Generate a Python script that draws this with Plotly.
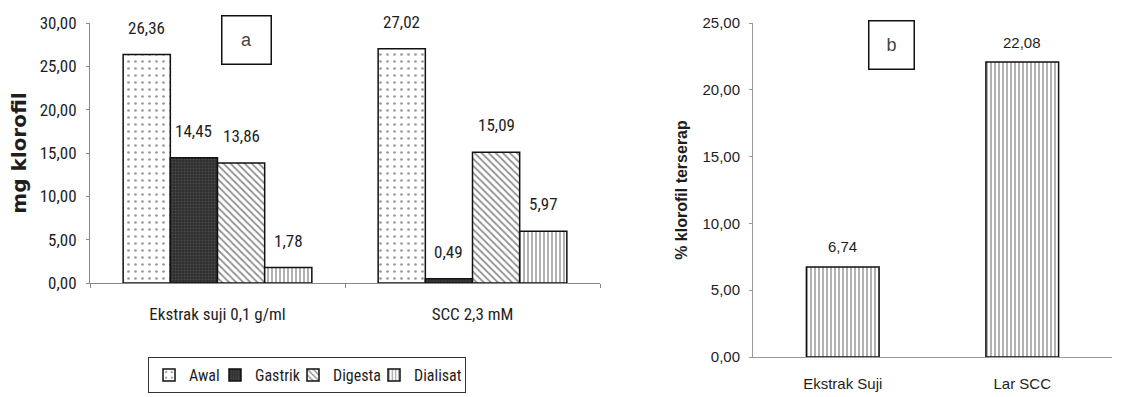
import plotly.graph_objects as go

# Panel a: chlorophyll (mg) at each digestion stage
groups = ["Ekstrak suji 0,1 g/ml", "SCC 2,3 mM"]
stages = ["Awal", "Gastrik", "Digesta", "Dialisat"]
awal = [26.36, 27.02]
gastrik = [14.45, 0.49]
digesta = [13.86, 15.09]
dialisat = [1.78, 5.97]
panel_a_ticks = [0, 5, 10, 15, 20, 25, 30]

# Panel b: percentage of chlorophyll absorbed
samples = ["Ekstrak Suji", "Lar SCC"]
absorbed = [6.74, 22.08]
panel_b_ticks = [0, 5, 10, 15, 20, 25]

NARROW = "Roboto Condensed, Liberation Sans, sans-serif"
SANS = "Liberation Sans, Arial, sans-serif"
WIDE_BOLD = "DejaVu Sans, Liberation Sans, sans-serif"
INK = "#1e1e1e"


def fmt(v):
    return f"{v:.2f}".replace(".", ",")


styles = {
    "Awal": dict(color="white", pattern=dict(shape=".", fgcolor="#333", bgcolor="white", size=7, solidity=0.12)),
    "Gastrik": dict(color="#3b3b3b", pattern=dict(shape=".", fgcolor="#6a6a6a", bgcolor="#2e2e2e", size=3, solidity=0.3)),
    "Digesta": dict(color="white", pattern=dict(shape="\\", fgcolor="#222", bgcolor="white", size=5, solidity=0.35)),
    "Dialisat": dict(color="white", pattern=dict(shape="|", fgcolor="#222", bgcolor="white", size=4, solidity=0.35)),
}
# width reserved for each legend entry's text (entries sit close together)
legend_text_width = {"Awal": 21, "Gastrik": 33, "Digesta": 36, "Dialisat": 46}
series = {"Awal": awal, "Gastrik": gastrik, "Digesta": digesta, "Dialisat": dialisat}

fig = go.Figure()

for name in stages:
    st = styles[name]
    fig.add_trace(go.Bar(
        x=groups, y=series[name], name=name,
        marker=dict(color=st["color"], pattern=st["pattern"],
                    line=dict(color="#111", width=1.5)),
        legendwidth=legend_text_width[name],
        xaxis="x", yaxis="y",
    ))

fig.add_trace(go.Bar(
    x=samples, y=absorbed, showlegend=False,
    marker=dict(color="white",
                pattern=dict(shape="|", fgcolor="#222", bgcolor="white", size=4, solidity=0.35),
                line=dict(color="#111", width=1.5)),
    xaxis="x2", yaxis="y2", width=0.405,
))

annotations = []

# value labels above the grouped bars of panel a
bargap = 0.26
bw = (1 - bargap) / len(stages)
for gi in range(len(groups)):
    for si, name in enumerate(stages):
        v = series[name][gi]
        xpos = gi - (1 - bargap) / 2 + bw * (si + 0.5)
        annotations.append(dict(
            x=xpos, y=v, xref="x", yref="y", text=fmt(v), showarrow=False,
            yshift=27, font=dict(family=NARROW, size=17, color=INK),
        ))

# value labels above the bars of panel b
for si, v in enumerate(absorbed):
    annotations.append(dict(
        x=si, y=v, xref="x2", yref="y2", text=fmt(v), showarrow=False,
        yshift=20, font=dict(family=SANS, size=15, color=INK),
    ))

# panel letters in boxes
annotations.append(dict(
    x=246 / 1127, y=1 - 40 / 397, xref="paper", yref="paper", text="a",
    xanchor="center", yanchor="middle",
    showarrow=False, font=dict(family=SANS, size=18, color="#444"),
    bordercolor="#111", borderwidth=1.5, width=46, height=45,
))
annotations.append(dict(
    x=891 / 1127, y=1 - 45 / 397, xref="paper", yref="paper", text="b",
    xanchor="center", yanchor="middle",
    showarrow=False, font=dict(family=SANS, size=18, color="#444"),
    bordercolor="#111", borderwidth=1.5, width=42, height=45,
))

fig.update_layout(
    width=1127, height=397,
    margin=dict(l=0, r=0, t=0, b=0, autoexpand=False),
    paper_bgcolor="white", plot_bgcolor="white",
    separators=",.",
    barmode="group", bargap=bargap, bargroupgap=0,
    showlegend=True,
    legend=dict(
        orientation="h", x=148 / 1127, y=1 - 357 / 397,
        xanchor="left", yanchor="top",
        bordercolor="#333", borderwidth=1,
        font=dict(family=NARROW, size=16, color=INK),
        itemwidth=30, traceorder="normal",
    ),
    annotations=annotations,
    xaxis=dict(
        domain=[90 / 1127, 600 / 1127], anchor="y", automargin=False,
        showline=True, linecolor="#888", linewidth=1,
        ticks="outside", tickson="boundaries", ticklen=4, tickcolor="#888",
        tickfont=dict(family=NARROW, size=17, color=INK),
        ticklabelstandoff=16,
    ),
    yaxis=dict(
        domain=[1 - 283 / 397, 1 - 23 / 397], anchor="x", automargin=False,
        range=[0, 30], tickvals=panel_a_ticks, tickformat=".2f",
        showgrid=False, zeroline=False,
        showline=True, linecolor="#888", linewidth=1,
        ticks="outside", ticklen=3, tickcolor="#888",
        tickfont=dict(family=NARROW, size=17, color=INK),
        ticklabelstandoff=6,
        title=dict(text="<b>mg klorofil</b>", font=dict(family=WIDE_BOLD, size=20, color=INK), standoff=7),
    ),
    xaxis2=dict(
        domain=[753 / 1127, 1112 / 1127], anchor="y2", automargin=False,
        showline=True, linecolor="#999", linewidth=1,
        ticks="", tickfont=dict(family=SANS, size=15, color=INK),
        ticklabelstandoff=13,
    ),
    yaxis2=dict(
        domain=[1 - 357 / 397, 1 - 23 / 397], anchor="x2", automargin=False,
        range=[0, 25], tickvals=panel_b_ticks, tickformat=".2f",
        showgrid=False, zeroline=False,
        showline=True, linecolor="#999", linewidth=1,
        ticks="outside", ticklen=3, tickcolor="#999",
        tickfont=dict(family=SANS, size=15, color=INK),
        ticklabelstandoff=6,
        title=dict(text="<b>% klorofil terserap</b>", font=dict(family=SANS, size=16, color=INK), standoff=10),
    ),
)

fig.write_html("out.html")
